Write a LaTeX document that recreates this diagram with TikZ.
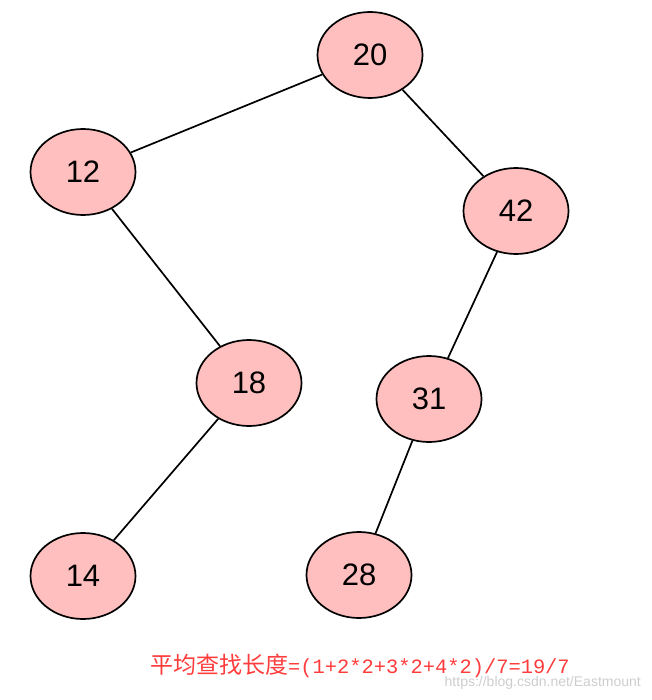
\documentclass[tikz,border=0pt]{standalone}
\usepackage{fontspec}
\setmainfont{Liberation Sans}
\newfontfamily\cjk{Noto Sans CJK SC}
\newfontfamily\monofnt{Liberation Mono}
\usetikzlibrary{shapes.geometric}
\definecolor{nodepink}{RGB}{255,191,191}
\definecolor{formulared}{RGB}{255,60,60}
\definecolor{wmgray}{RGB}{205,205,205}
\tikzset{
  treenode/.style={ellipse, draw=black, line width=1.7pt, fill=nodepink,
    minimum width=105pt, minimum height=86pt, inner sep=0pt,
    font=\fontsize{31}{31}\selectfont},
  edge/.style={draw=black, line width=1.7pt}
}
\begin{document}
\begin{tikzpicture}[x=1pt,y=-1pt]
\useasboundingbox (0,0) rectangle (651,700);
\node[treenode] (n20) at (370,55) {20};
\node[treenode] (n12) at (83,172) {12};
\node[treenode] (n42) at (516,211) {42};
\node[treenode] (n18) at (249,383) {18};
\node[treenode] (n31) at (429,399) {31};
\node[treenode] (n14) at (83,576) {14};
\node[treenode] (n28) at (359,575) {28};
\draw[edge] (n20) -- (n12);
\draw[edge] (n20) -- (n42);
\draw[edge] (n12) -- (n18);
\draw[edge] (n18) -- (n14);
\draw[edge] (n42) -- (n31);
\draw[edge] (n31) -- (n28);
\node[anchor=west, inner sep=0pt, text=formulared] (formula) at (150,666)
  {{\cjk\fontsize{23}{23}\selectfont 平均查找长度}{\monofnt\fontsize{20.4}{20.4}\selectfont =(1+2*2+3*2+4*2)/7=19/7}};
\node[anchor=east, inner sep=0pt, text=wmgray, font=\fontsize{14}{14}\selectfont] (wm) at (641,683)
  {https://blog.csdn.net/Eastmount};
\end{tikzpicture}
\end{document}
